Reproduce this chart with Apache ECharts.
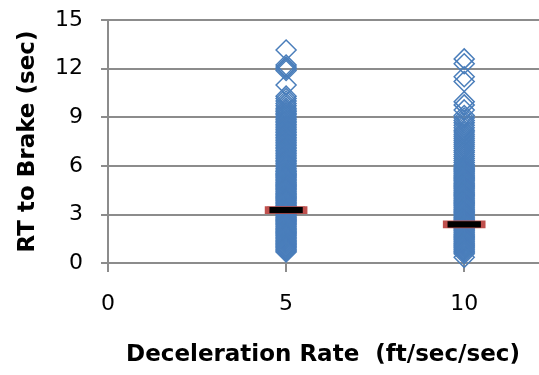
<!DOCTYPE html>
<html><head><meta charset="utf-8">
<script src="https://cdn.jsdelivr.net/npm/echarts@6/dist/echarts.min.js"></script>
<style>html,body{margin:0;padding:0;background:#fff}#c{width:539px;height:375px}</style>
</head><body><div id="c"></div>
<script>
const xTickLabels = [0, 5, 10];
const yTickLabels = [0, 3, 6, 9, 12, 15];
const xTitle = 'Deceleration Rate  (ft/sec/sec)';
const yTitle = 'RT to Brake (sec)';
const rateGroups = [5, 10];
// RT to brake (sec) observations at 5 ft/sec/sec
const rt5 = [13.15, 12.22, 12.1, 12.0, 11.88, 10.99, 10.3, 10.15, 10.0, 9.85, 9.7, 9.55,
  9.45, 9.35, 9.25, 9.15, 9.05, 8.95, 8.85, 8.75, 8.65, 8.55, 8.45, 8.35, 8.25, 8.15, 8.05,
  7.95, 7.85, 7.75, 7.65, 7.55, 7.45, 7.35, 7.25, 7.15, 7.05, 6.95, 6.85, 6.75, 6.65, 6.55,
  6.45, 6.35, 6.25, 6.15, 6.05, 5.95, 5.85,
  5.74, 5.67, 5.61, 5.53, 5.47, 5.40, 5.33, 5.27, 5.19, 5.12, 5.06, 4.99, 4.92, 4.85, 4.79, 4.72,
  4.65, 4.58, 4.52, 4.45, 4.38, 4.31, 4.25, 4.18, 4.11, 4.04, 3.98, 3.91, 3.84, 3.77, 3.71, 3.64,
  3.57, 3.50, 3.44, 3.37, 3.30, 3.23, 3.17, 3.10, 3.03, 2.96, 2.90, 2.83, 2.76, 2.69, 2.63, 2.56,
  2.49, 2.42, 2.36, 2.29, 2.22, 2.15, 2.09, 2.02, 1.95, 1.88, 1.82, 1.75, 1.68, 1.61, 1.55, 1.48,
  1.41, 1.34, 1.28, 1.21, 1.14, 1.07, 1.01, 0.94, 0.87, 0.80, 0.74, 0.68];
// RT to brake (sec) observations at 10 ft/sec/sec
const rt10 = [12.6, 12.3, 11.5, 11.2, 9.96, 9.76, 9.45, 9.1, 8.95, 8.8, 8.65, 8.5, 8.35,
  8.2, 8.08, 7.95, 7.83, 7.7, 7.58, 7.45, 7.33, 7.2, 7.08, 6.95, 6.83, 6.7, 6.58, 6.45, 6.33, 6.2, 6.08,
  5.98, 5.91, 5.84, 5.77, 5.70, 5.63, 5.56, 5.49, 5.42, 5.35, 5.28, 5.21, 5.14, 5.07, 5.00, 4.93,
  4.86, 4.79, 4.72, 4.65, 4.58, 4.51, 4.44, 4.37, 4.30, 4.23, 4.16, 4.09, 4.02, 3.95, 3.88, 3.81,
  3.74, 3.67, 3.60, 3.53, 3.46, 3.39, 3.32, 3.25, 3.18, 3.11, 3.04, 2.97, 2.90, 2.83, 2.76, 2.69,
  2.62, 2.55, 2.48, 2.41, 2.34, 2.27, 2.20, 2.13, 2.06, 1.99, 1.92, 1.85, 1.78, 1.71, 1.64, 1.57,
  1.50, 1.43, 1.36, 1.29, 1.22, 1.15, 1.08, 1.01, 0.94, 0.87, 0.80, 0.73, 0.66, 0.57, 0.35];
const meanRT = [3.26, 2.38];

const pts = [];
rt5.forEach(v => pts.push([rateGroups[0], v]));
rt10.forEach(v => pts.push([rateGroups[1], v]));
const means = rateGroups.map((x, i) => [x, meanRT[i]]);

const FONT = 'DejaVu Sans';
const gray = '#8c8c8c';
const chart = echarts.init(document.getElementById('c'), null, {renderer: 'canvas'});
chart.setOption({
  animation: false,
  backgroundColor: '#fff',
  grid: {left: 108, top: 20, right: 0, bottom: 112},
  xAxis: {
    type: 'value', min: 0, max: 12.1, interval: 5,
    axisLine: {show: true, onZero: false, lineStyle: {color: gray, width: 2}},
    axisTick: {show: true, length: 9, customValues: xTickLabels, lineStyle: {color: gray, width: 2}},
    splitLine: {show: false},
    axisLabel: {
      margin: 30, color: '#000', fontFamily: FONT, fontSize: 22, customValues: xTickLabels,
      formatter: v => (xTickLabels.indexOf(v) >= 0 ? String(v) : '')
    }
  },
  yAxis: {
    type: 'value', min: 0, max: 15, interval: 3,
    name: yTitle, nameLocation: 'middle', nameGap: 68, nameRotate: 90,
    nameTextStyle: {fontFamily: FONT, fontSize: 23, fontWeight: 'bold', color: '#000'},
    axisLine: {show: true, lineStyle: {color: gray, width: 2}},
    axisTick: {show: true, length: 7, lineStyle: {color: gray, width: 2}},
    splitLine: {show: true, lineStyle: {color: gray, width: 2}},
    axisLabel: {
      margin: 25, color: '#000', fontFamily: FONT, fontSize: 22,
      formatter: v => (yTickLabels.indexOf(v) >= 0 ? String(v) : '')
    }
  },
  graphic: [{
    type: 'text', x: 323, y: 355,
    style: {text: xTitle, fill: '#000', font: 'bold 23px "DejaVu Sans"', align: 'center', verticalAlign: 'middle',
      textAlign: 'center', textVerticalAlign: 'middle'}
  }],
  series: [{
    type: 'scatter', data: pts, symbol: 'diamond', symbolSize: 20, large: false,
    itemStyle: {color: 'rgba(0,0,0,0)', borderColor: '#4a7ebb', borderWidth: 1.5, opacity: 1},
    emphasis: {disabled: true}, z: 2
  }, {
    type: 'scatter', data: means, symbol: 'rect', symbolSize: [38, 7],
    itemStyle: {color: '#000', borderColor: '#c0504d', borderWidth: 2, opacity: 1},
    emphasis: {disabled: true}, z: 3
  }]
});
</script></body></html>
